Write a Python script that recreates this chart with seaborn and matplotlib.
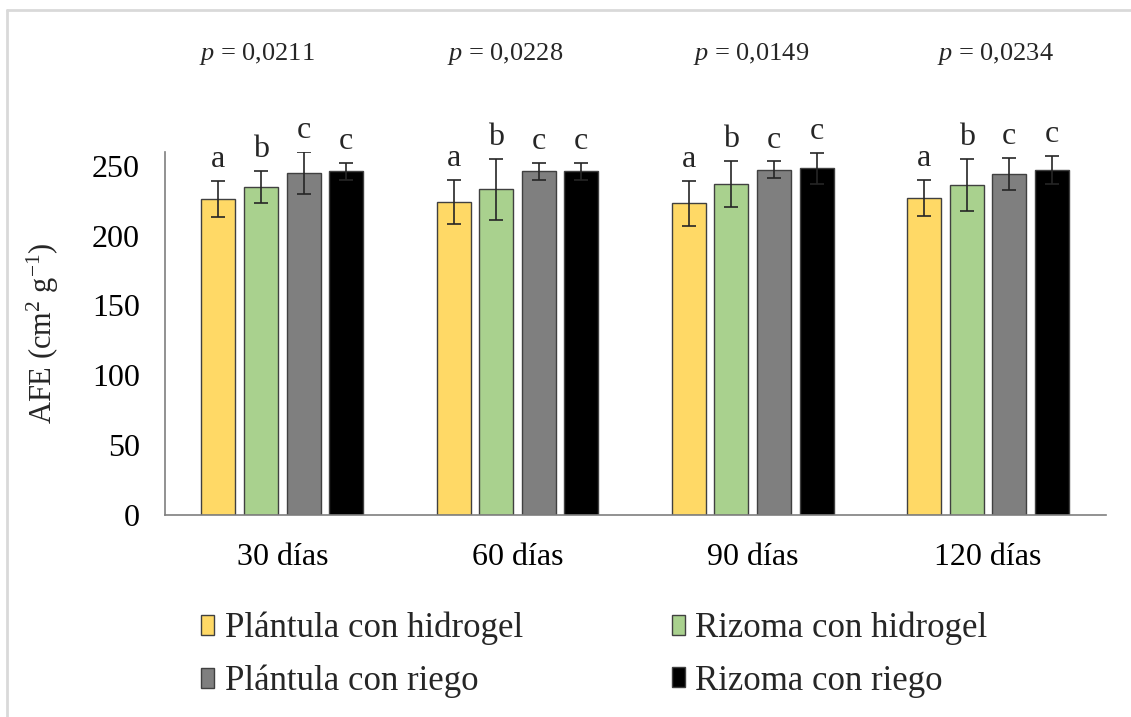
import numpy as np
import pandas as pd
import matplotlib
matplotlib.use("Agg")
import matplotlib.pyplot as plt
from matplotlib.lines import Line2D
import seaborn as sns

# ==========================================================
# DATA
# ==========================================================

periodos = ["30 días", "60 días", "90 días", "120 días"]

tratamientos = [
    "Plántula con hidrogel",
    "Rizoma con hidrogel",
    "Plántula con riego",
    "Rizoma con riego",
]

plantula_hidrogel = [226, 224, 223, 227]
rizoma_hidrogel = [235, 233, 237, 236]
plantula_riego = [245, 246, 247, 244]
rizoma_riego = [246, 246, 248, 247]

err_plantula_hidrogel = [13, 16, 16, 13]
err_rizoma_hidrogel = [11.5, 22, 16.5, 18.5]
err_plantula_riego = [15, 6, 6, 11.5]
err_rizoma_riego = [6, 6, 11, 10]

letras = ["a", "b", "c", "c"]

p_valores = ["0,0211", "0,0228", "0,0149", "0,0234"]

colores = ["#FFD966", "#A9D18E", "#7F7F7F", "#000000"]

# ==========================================================
# LONG TABLE
# ==========================================================

medias = [plantula_hidrogel, rizoma_hidrogel, plantula_riego, rizoma_riego]
errores = [err_plantula_hidrogel, err_rizoma_hidrogel,
           err_plantula_riego, err_rizoma_riego]

df = pd.DataFrame({
    "periodo": [p for t in tratamientos for p in periodos],
    "tratamiento": [t for t in tratamientos for p in periodos],
    "afe": [v for serie in medias for v in serie],
})

# ==========================================================
# STYLE
# ==========================================================

sns.set_style("white")
plt.rcParams["font.family"] = ["Liberation Serif", "DejaVu Serif"]
plt.rcParams["mathtext.fontset"] = "custom"
plt.rcParams["mathtext.rm"] = "Liberation Serif"
plt.rcParams["mathtext.it"] = "Liberation Serif:italic"

fig = plt.figure(figsize=(11.31, 7.17), dpi=100)
ax = fig.add_axes([0.1456, 0.2817, 0.8319, 0.5067])

sns.barplot(
    data=df,
    x="periodo",
    y="afe",
    hue="tratamiento",
    order=periodos,
    hue_order=tratamientos,
    palette=colores,
    saturation=1,
    width=0.724,
    gap=0.2,
    errorbar=None,
    edgecolor="#404040",
    linewidth=1.0,
    legend=False,
    ax=ax,
)

# error bars and letters
bar_groups = list(ax.containers)
for i, cont in enumerate(bar_groups):
    for j, bar in enumerate(cont.patches):
        xc = bar.get_x() + bar.get_width() / 2
        yv = bar.get_height()
        e = errores[i][j]
        ax.errorbar(xc, yv, yerr=e, fmt="none", ecolor="#262626",
                    elinewidth=1.2, capsize=5, capthick=1.2, zorder=5)
        ax.annotate(letras[i], (xc, yv + e), xytext=(0, 5),
                    textcoords="offset points", ha="center", va="bottom",
                    fontsize=23)

# p values above each group
p_x = [-0.11, 0.946, 1.992, 3.034]
for xp, pv in zip(p_x, p_valores):
    ax.text(xp, 1.27, r"$p$ = " + pv, transform=ax.get_xaxis_transform(),
            ha="center", va="center", fontsize=19)

# ==========================================================
# AXES
# ==========================================================

ax.set_ylim(0, 260)
ax.set_xlim(-0.5, 3.5)
ax.set_yticks([0, 50, 100, 150, 200, 250])
ax.set_xticks(range(len(periodos)))
ax.set_xticklabels(periodos)
ax.set_xticks(np.arange(-0.5, 4.0, 1.0), minor=True)

ax.set_xlabel("")
ax.set_ylabel(r"AFE (cm$^{2}$ g$^{\mathrm{-1}}$)", fontsize=22, labelpad=22)

ax.tick_params(axis="both", which="both", direction="out", colors="#7f7f7f",
               labelcolor="black", labelsize=23, width=1.2)
ax.tick_params(axis="y", length=7, pad=11)
ax.tick_params(axis="x", which="both", length=6, pad=14)

sns.despine(ax=ax)
for s in ["left", "bottom"]:
    ax.spines[s].set_color("#7f7f7f")
    ax.spines[s].set_linewidth(1.2)

# ==========================================================
# LEGEND (row-wise order like the original)
# ==========================================================

handles = [plt.Rectangle((0, 0), 1, 1, facecolor=c, edgecolor="#404040",
                         linewidth=1.0) for c in colores]
orden = [0, 2, 1, 3]

fig.legend(
    [handles[k] for k in orden],
    [tratamientos[k] for k in orden],
    loc="upper left",
    bbox_to_anchor=(0.178, 0.147),
    bbox_transform=fig.transFigure,
    ncol=2,
    frameon=False,
    fontsize=25,
    handlelength=0.37,
    handleheight=0.53,
    handletextpad=0.3,
    columnspacing=4.3,
    labelspacing=0.56,
    borderaxespad=0,
    borderpad=0,
)

# light frame around the picture
fig.add_artist(Line2D([0.0062, 0.0062], [0, 0.986], transform=fig.transFigure,
                      color="#d9d9d9", linewidth=2))
fig.add_artist(Line2D([0.0062, 1], [0.986, 0.986], transform=fig.transFigure,
                      color="#d9d9d9", linewidth=2))

fig.savefig("out.png", dpi=100)
